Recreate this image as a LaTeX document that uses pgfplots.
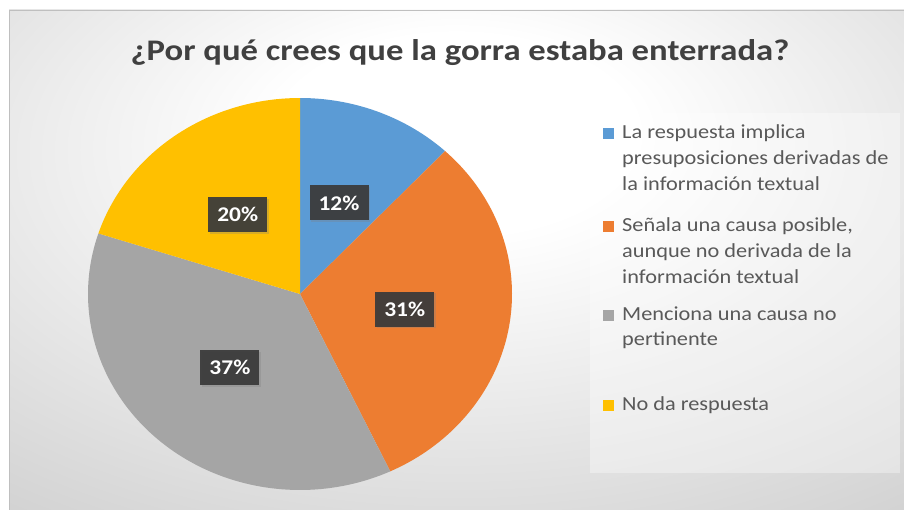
\documentclass[border=0pt]{standalone}
\usepackage{fontspec}
\setmainfont{Carlito}
\usepackage{pgfplots}
\pgfplotsset{compat=1.18}
\usetikzlibrary{shadows}
\definecolor{cA}{HTML}{5B9BD5}
\definecolor{cB}{HTML}{ED7D31}
\definecolor{cC}{HTML}{A5A5A5}
\definecolor{cD}{HTML}{FFC000}
\definecolor{txt}{HTML}{595959}
\definecolor{ttl}{HTML}{404040}
\definecolor{bgout}{HTML}{C4C4C4}
\definecolor{lbl}{HTML}{3A3A3A}
\pgfdeclareradialshading{chartbg}{\pgfpoint{0bp}{14bp}}{color(0bp)=(white); color(10bp)=(white); color(52bp)=(bgout); color(100bp)=(bgout)}
% data (percent)
\def\pA{12}\def\pB{31}\def\pC{37}\def\pD{20}
\newcommand{\sx}[1]{\scalebox{1.12}[1]{#1}}
\begin{document}
\begin{tikzpicture}
\pgfmathsetmacro{\aA}{90}
\pgfmathsetmacro{\aB}{90-3.6*\pA}
\pgfmathsetmacro{\aC}{\aB-3.6*\pB}
\pgfmathsetmacro{\aD}{\aC-3.6*\pC}
\pgfmathsetmacro{\aE}{\aD-3.6*\pD}
\pgfmathsetmacro{\mA}{(\aA+\aB)/2}
\pgfmathsetmacro{\mB}{(\aB+\aC)/2}
\pgfmathsetmacro{\mC}{(\aC+\aD)/2}
\pgfmathsetmacro{\mD}{(\aD+\aE)/2}
\tikzset{lblbox/.style={fill=lbl, fill opacity=0.93, text opacity=1, text=white,
  font=\fontsize{21}{24}\selectfont\bfseries, minimum width=59bp, minimum height=35bp,
  inner sep=0pt, drop shadow={shadow xshift=1.5bp, shadow yshift=-1.5bp, opacity=0.3}},
  legtxt/.style={anchor=base west, inner sep=0pt, text=txt, font=\fontsize{20}{23}\selectfont}}
\begin{axis}[width=904bp,height=510bp,scale only axis,
  xmin=0,xmax=904,ymin=0,ymax=510,hide axis,clip=false]
\shade[shading=chartbg] (axis cs:9,0) rectangle (axis cs:904,500);
\draw[black!25, line width=1pt] (axis cs:9.5,0) -- (axis cs:9.5,499.5) -- (axis cs:904,499.5);
% pie slices
\addplot[fill=cA,draw=none,domain=\aB:\aA,samples=60,variable=\t]
  ({300+212*cos(\t)},{216+196*sin(\t)}) -- (axis cs:300,216) -- cycle;
\addplot[fill=cB,draw=none,domain=\aC:\aB,samples=80,variable=\t]
  ({300+212*cos(\t)},{216+196*sin(\t)}) -- (axis cs:300,216) -- cycle;
\addplot[fill=cC,draw=none,domain=\aD:\aC,samples=90,variable=\t]
  ({300+212*cos(\t)},{216+196*sin(\t)}) -- (axis cs:300,216) -- cycle;
\addplot[fill=cD,draw=none,domain=\aE:\aD,samples=60,variable=\t]
  ({300+212*cos(\t)},{216+196*sin(\t)}) -- (axis cs:300,216) -- cycle;
% labels
\node[lblbox] at (axis cs:{300+106*cos(\mA)},{216+98*sin(\mA)}) {\sx{\pA\%}};
\node[lblbox] at (axis cs:{300+106*cos(\mB)},{216+98*sin(\mB)}) {\sx{\pB\%}};
\node[lblbox] at (axis cs:{300+106*cos(\mC)},{216+98*sin(\mC)}) {\sx{\pC\%}};
\node[lblbox] at (axis cs:{300+106*cos(\mD)},{216+98*sin(\mD)}) {\sx{\pD\%}};
% title
\node[anchor=base, inner sep=0pt, text=ttl, font=\fontsize{30}{34}\selectfont\bfseries]
  at (axis cs:460,449) {\scalebox{1.16}[1]{¿Por qué crees que la gorra estaba enterrada?}};
% legend
\fill[white, opacity=0.35] (axis cs:590,37) rectangle (axis cs:900,397);
\fill[cA] (axis cs:603,371) rectangle (axis cs:614,382);
\node[legtxt] at (axis cs:622,372) {\sx{La respuesta implica}};
\node[legtxt] at (axis cs:622,346) {\sx{presuposiciones derivadas de}};
\node[legtxt] at (axis cs:622,320) {\sx{la información textual}};
\fill[cB] (axis cs:603,278) rectangle (axis cs:614,289);
\node[legtxt] at (axis cs:622,279) {\sx{Señala una causa posible,}};
\node[legtxt] at (axis cs:622,253) {\sx{aunque no derivada de la}};
\node[legtxt] at (axis cs:622,227) {\sx{información textual}};
\fill[cC] (axis cs:603,189) rectangle (axis cs:614,200);
\node[legtxt] at (axis cs:622,190) {\sx{Menciona una causa no}};
\node[legtxt] at (axis cs:622,165) {\sx{pertinente}};
\fill[cD] (axis cs:603,99) rectangle (axis cs:614,110);
\node[legtxt] at (axis cs:622,100) {\sx{No da respuesta}};
\end{axis}
\pgfresetboundingbox
\path (0,0) rectangle (904bp,510bp);
\end{tikzpicture}
\end{document}
